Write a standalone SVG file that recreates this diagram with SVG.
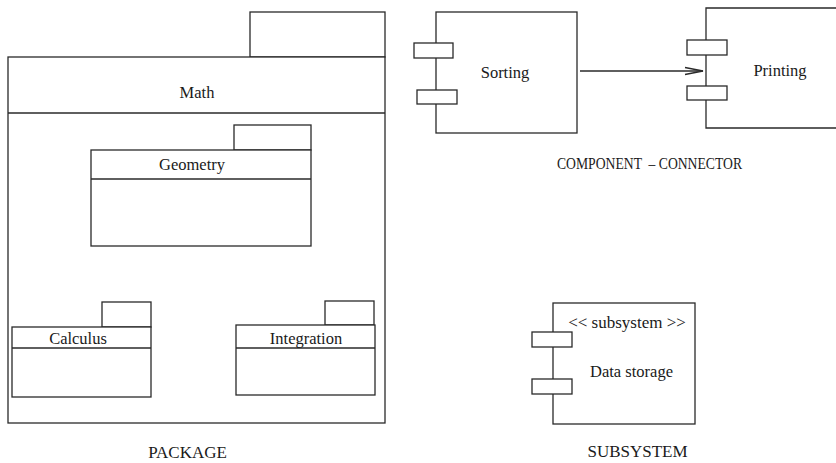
<svg xmlns="http://www.w3.org/2000/svg" width="836" height="463" viewBox="0 0 836 463">
<style>
.s{fill:#fff;stroke:#2a2a2a;stroke-width:1.3}
.l{fill:none;stroke:#2a2a2a;stroke-width:1.3}
text{font-family:"Liberation Serif","Times New Roman",serif;font-size:16.5px;fill:#1a1a1a;text-anchor:middle}
.cap{font-size:17px}
</style>
<defs>
<marker id="arr" markerWidth="20" markerHeight="10" refX="19" refY="5" orient="auto" markerUnits="userSpaceOnUse">
<path d="M1,1.5 L19,5 L1,8.5" fill="none" stroke="#2a2a2a" stroke-width="1.3"/>
</marker>
</defs>
<rect width="836" height="463" fill="#fff"/>
<g id="math">
<rect class="s" x="250" y="12" width="135" height="45"/>
<rect class="s" x="8" y="57" width="377" height="366"/>
<line class="l" x1="8" y1="113" x2="385" y2="113"/>
<text x="197" y="98">Math</text>
</g>
<g id="geometry">
<rect class="s" x="234" y="125" width="77" height="25"/>
<rect class="s" x="91" y="150" width="220" height="96"/>
<line class="l" x1="91" y1="179" x2="311" y2="179"/>
<text x="192" y="170">Geometry</text>
</g>
<g id="calculus">
<rect class="s" x="102" y="302" width="49" height="25"/>
<rect class="s" x="12" y="327" width="139" height="70"/>
<line class="l" x1="12" y1="348" x2="151" y2="348"/>
<text x="78" y="344">Calculus</text>
</g>
<g id="integration">
<rect class="s" x="325" y="301" width="49" height="24"/>
<rect class="s" x="236" y="325" width="139" height="70"/>
<line class="l" x1="236" y1="348" x2="375" y2="348"/>
<text x="306" y="344">Integration</text>
</g>
<text class="cap" x="187.5" y="458">PACKAGE</text>
<g id="sorting">
<rect class="s" x="436" y="12" width="141" height="121"/>
<rect class="s" x="414" y="43" width="39" height="15"/>
<rect class="s" x="417" y="90" width="40" height="14"/>
<text x="505" y="78">Sorting</text>
</g>
<g id="printing">
<polyline class="l" points="836,8 706,8 706,128 836,128"/>
<rect class="s" x="687" y="40" width="40" height="15"/>
<rect class="s" x="687" y="86" width="40" height="14"/>
<text x="780" y="76">Printing</text>
</g>
<g id="connectors">
<line class="l" x1="580" y1="71" x2="703" y2="71" marker-end="url(#arr)"/>
</g>
<text class="cap" x="557" y="169" style="text-anchor:start" textLength="185" lengthAdjust="spacingAndGlyphs" xml:space="preserve">COMPONENT  – CONNECTOR</text>
<g id="datastorage">
<rect class="s" x="553" y="303" width="142" height="121"/>
<rect class="s" x="532" y="332" width="40" height="15"/>
<rect class="s" x="532" y="379" width="40" height="15"/>
<text x="627" y="328" style="font-size:17px">&lt;&lt; subsystem &gt;&gt;</text>
<text x="631.5" y="377">Data storage</text>
</g>
<text class="cap" x="637.5" y="457">SUBSYSTEM</text>
</svg>
